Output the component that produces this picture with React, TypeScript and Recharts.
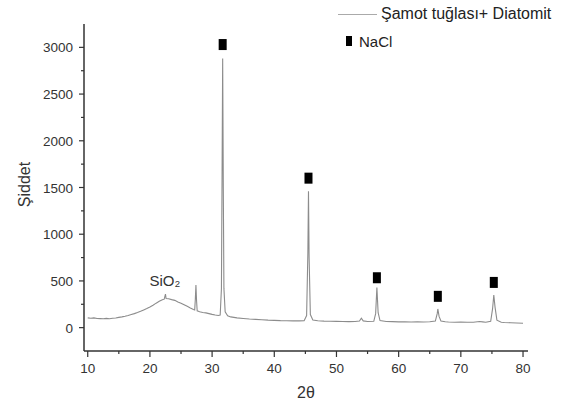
import React from "react";
import {
  ComposedChart,
  Line,
  Scatter,
  XAxis,
  YAxis,
  Legend,
  ReferenceDot,
} from "recharts";

const twoTheta = [
  10, 10.5, 11, 11.5, 12, 12.5, 13, 13.5, 14, 14.5, 15,
  15.5, 16, 16.5, 17, 17.5, 18, 18.5, 19, 19.5, 20, 20.5, 21, 21.5, 22, 22.3, 22.5, 22.6, 23,
  23.5, 24, 24.5, 25, 25.5, 26, 26.5, 27, 27.2, 27.3, 27.4, 27.5, 27.6,
  28, 28.5, 29, 29.5, 30, 30.5, 31, 31.3, 31.5, 31.6, 31.7, 31.8, 31.9, 32.1, 32.5,
  33, 34, 35, 36, 37, 38, 39, 40, 41, 42, 43, 44, 44.8, 45.2, 45.4, 45.5, 45.6, 45.8, 46.2,
  47, 48, 49, 50, 51, 52, 53, 53.7, 54, 54.3, 55, 56, 56.3, 56.5, 56.7, 57, 58,
  59, 60, 61, 62, 63, 64, 65, 65.9, 66.2, 66.3, 66.5, 66.8, 67.5,
  68, 69, 70, 71, 72, 73, 73.5, 74, 74.8, 75.1, 75.3, 75.5, 75.8, 76.5,
  77, 78, 79, 80,
];
const counts = [
  105, 100, 104, 98, 97, 95, 99, 96, 100, 104, 110,
  115, 122, 130, 140, 150, 162, 175, 190, 205, 222, 240, 262, 282, 298, 305, 360, 312, 310,
  300, 292, 275, 262, 245, 228, 210, 195, 190, 300, 455, 290, 180,
  170, 162, 158, 150, 142, 135, 130, 135, 420, 1600, 2880, 1500, 420, 170, 128,
  115, 105, 98, 92, 88, 84, 80, 78, 75, 74, 72, 72, 75, 130, 800, 1460, 750, 140, 82,
  74, 70, 68, 67, 66, 64, 65, 70, 100, 72, 66, 68, 150, 430, 160, 75, 65,
  64, 62, 63, 60, 62, 61, 63, 70, 150, 200, 120, 72, 63,
  60, 58, 59, 57, 58, 65, 62, 58, 68, 200, 350, 220, 80, 58,
  55, 52, 50, 47,
];

// NaCl marker positions
const naclTheta = [31.7, 45.5, 56.5, 66.3, 75.3];
const naclLevel = [3030, 1600, 534, 335, 484];

const xTicks = [10, 15, 20, 25, 30, 35, 40, 45, 50, 55, 60, 65, 70, 75, 80];
const yTicks = [0, 250, 500, 750, 1000, 1250, 1500, 1750, 2000, 2250, 2500, 2750, 3000];

const pattern = twoTheta.map((x, i) => ({ x, y: counts[i] }));
const nacl = naclTheta.map((x, i) => ({ x, y: naclLevel[i] }));

const FONT = "'Liberation Sans', Arial, sans-serif";
const INK = "#333";

const XTick = (props: any) => {
  const { x, y, payload } = props;
  const major = payload.value % 10 === 0;
  return (
    <g>
      <line x1={x} x2={x} y1={y} y2={y + (major ? 6 : 3)} stroke={INK} strokeWidth={1.2} />
      {major && (
        <text x={x} y={y + 22} textAnchor="middle" fontSize={13.5} fill={INK} fontFamily={FONT}>
          {payload.value}
        </text>
      )}
    </g>
  );
};

const YTick = (props: any) => {
  const { x, y, payload } = props;
  const major = payload.value % 500 === 0;
  return (
    <g>
      <line x1={x - (major ? 5 : 3)} x2={x} y1={y} y2={y} stroke={INK} strokeWidth={1.2} />
      {major && (
        <text x={x - 11} y={y + 5} textAnchor="end" fontSize={13.5} fill={INK} fontFamily={FONT}>
          {payload.value}
        </text>
      )}
    </g>
  );
};

const Square = (props: any) => {
  const { cx, cy } = props;
  return <rect x={cx - 4} y={cy - 5.5} width={8} height={11} fill="#000" />;
};

const renderLegend = () => (
  <div style={{ fontFamily: FONT, color: "#222" }}>
    <div style={{ display: "flex", alignItems: "center", height: 22 }}>
      <span style={{ display: "inline-block", flexShrink: 0, width: 39, borderTop: "1px solid #aaa", marginRight: 4 }} />
      <span style={{ fontSize: 16, whiteSpace: "nowrap" }}>Şamot tuğlası+ Diatomit</span>
    </div>
    <div style={{ display: "flex", alignItems: "center", height: 20, marginTop: 6, paddingLeft: 8 }}>
      <span style={{ display: "inline-block", flexShrink: 0, width: 6, height: 10, background: "#000", marginRight: 7 }} />
      <span style={{ fontSize: 15 }}>NaCl</span>
    </div>
  </div>
);

export default function App() {
  return (
    <div style={{ position: "absolute", left: 0, top: 0, background: "#fff" }}>
      <ComposedChart width={571} height={408} margin={{ top: 24, right: 43, left: 24, bottom: 27 }}>
        <XAxis
          type="number"
          dataKey="x"
          domain={[9.4, 80.8]}
          ticks={xTicks}
          tick={<XTick />}
          tickSize={0}
          tickMargin={0}
          height={30}
          allowDataOverflow
          axisLine={{ stroke: INK, strokeWidth: 1.5 }}
          label={{ value: "2θ", position: "bottom", offset: 6, fontSize: 16, fill: INK, fontFamily: FONT }}
        />
        <YAxis
          type="number"
          domain={[-250, 3250]}
          ticks={yTicks}
          tick={<YTick />}
          tickSize={0}
          tickMargin={0}
          width={60}
          allowDataOverflow
          axisLine={{ stroke: INK, strokeWidth: 1.5 }}
          label={{ value: "Şiddet", angle: -90, position: "center", dx: -30, dy: -3, fontSize: 16, fill: INK, fontFamily: FONT }}
        />
        <Legend
          layout="vertical"
          align="center"
          verticalAlign="middle"
          content={renderLegend}
          wrapperStyle={{ position: "absolute", top: 3, left: 338, width: 232 }}
        />
        <Line
          data={pattern}
          dataKey="y"
          type="linear"
          stroke="#8c8c8c"
          strokeWidth={1.1}
          dot={false}
          isAnimationActive={false}
        />
        <Scatter data={nacl} dataKey="y" shape={<Square />} isAnimationActive={false} />
        <ReferenceDot
          x={22.4}
          y={498}
          r={1}
          fill="none"
          stroke="none"
          label={{ value: "SiO₂", position: "center", fontSize: 15, fill: INK, fontFamily: FONT }}
        />
      </ComposedChart>
    </div>
  );
}
